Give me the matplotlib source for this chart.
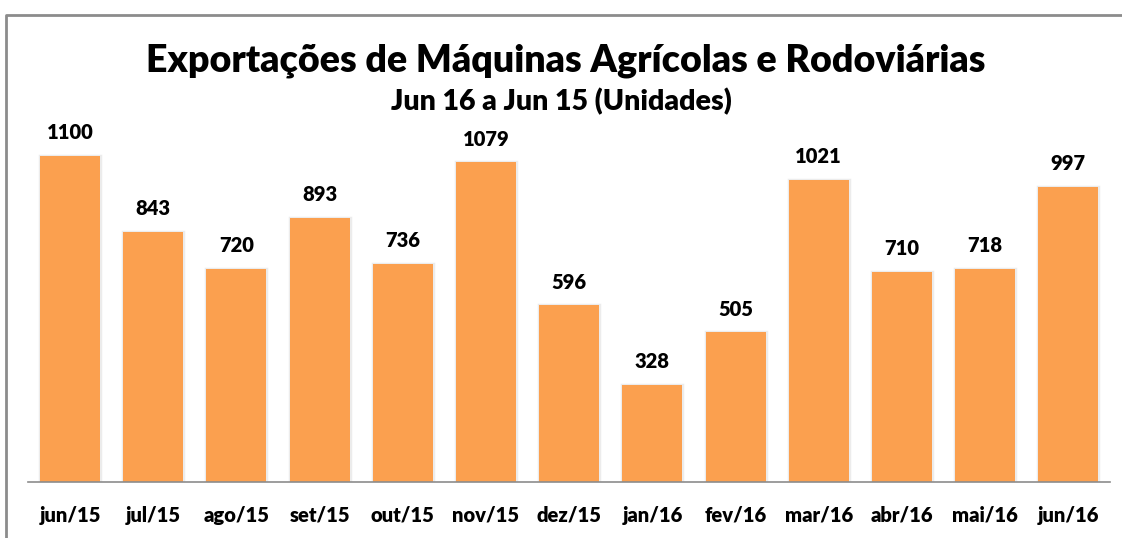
import matplotlib
matplotlib.use("Agg")
import matplotlib.pyplot as plt
import matplotlib.patheffects as pe
from matplotlib.lines import Line2D

# dados
meses = ["jun/15", "jul/15", "ago/15", "set/15", "out/15", "nov/15", "dez/15",
         "jan/16", "fev/16", "mar/16", "abr/16", "mai/16", "jun/16"]
unidades = [1100, 843, 720, 893, 736, 1079, 596, 328, 505, 1021, 710, 718, 997]

titulo = "Exportações de Máquinas Agrícolas e Rodoviárias"
subtitulo = "Jun 16 a Jun 15 (Unidades)"

plt.rcParams['font.family'] = ['Lato', 'DejaVu Sans']
PESO = "heavy"

fig = plt.figure(figsize=(11.22, 5.38), dpi=100)
W, H = 1122, 538

# moldura do grafico (borda cinza em cima e a esquerda)
fig.add_artist(Line2D([6 / W, 6 / W, 1.0], [0, 1 - 15 / H, 1 - 15 / H],
                      transform=fig.transFigure, color="#8c8c8c", lw=2))

ax = fig.add_axes([28.4 / W, (H - 482) / H, (1110 - 28.4) / W, 385 / H])

x = range(len(meses))
bars = ax.bar(x, unidades, width=0.72, color="#FBA04F", zorder=2)
for b in bars:
    b.set_path_effects([pe.SimplePatchShadow(offset=(1.5, -1), shadow_rgbFace="#bdbdbd", alpha=0.5),
                        pe.Stroke(linewidth=2.5, foreground="#ececec"),
                        pe.Normal()])

for xi, v in zip(x, unidades):
    ax.annotate(str(v), (xi, v), xytext=(0, 10), textcoords="offset points",
                ha="center", va="bottom", fontsize=14.5, fontweight=PESO)

ax.set_xlim(-0.5, len(meses) - 0.5)
ax.set_ylim(0, 1300)
ax.set_xticks(list(x))
ax.set_xticklabels(meses, fontsize=14.5, fontweight=PESO)
ax.tick_params(axis="x", length=0, pad=17)
ax.set_yticks([])
for s in ["top", "right", "left"]:
    ax.spines[s].set_visible(False)
ax.spines["bottom"].set_color("#8c8c8c")
ax.spines["bottom"].set_linewidth(1.2)
ax.spines["bottom"].set_zorder(3)

fig.text(566 / W, 1 - 61 / H, titulo, ha="center", va="center",
         fontsize=27, fontweight=PESO)
fig.text(561 / W, 1 - 102 / H, subtitulo, ha="center", va="center",
         fontsize=20.5, fontweight=PESO)

fig.savefig("out.png", dpi=100)
